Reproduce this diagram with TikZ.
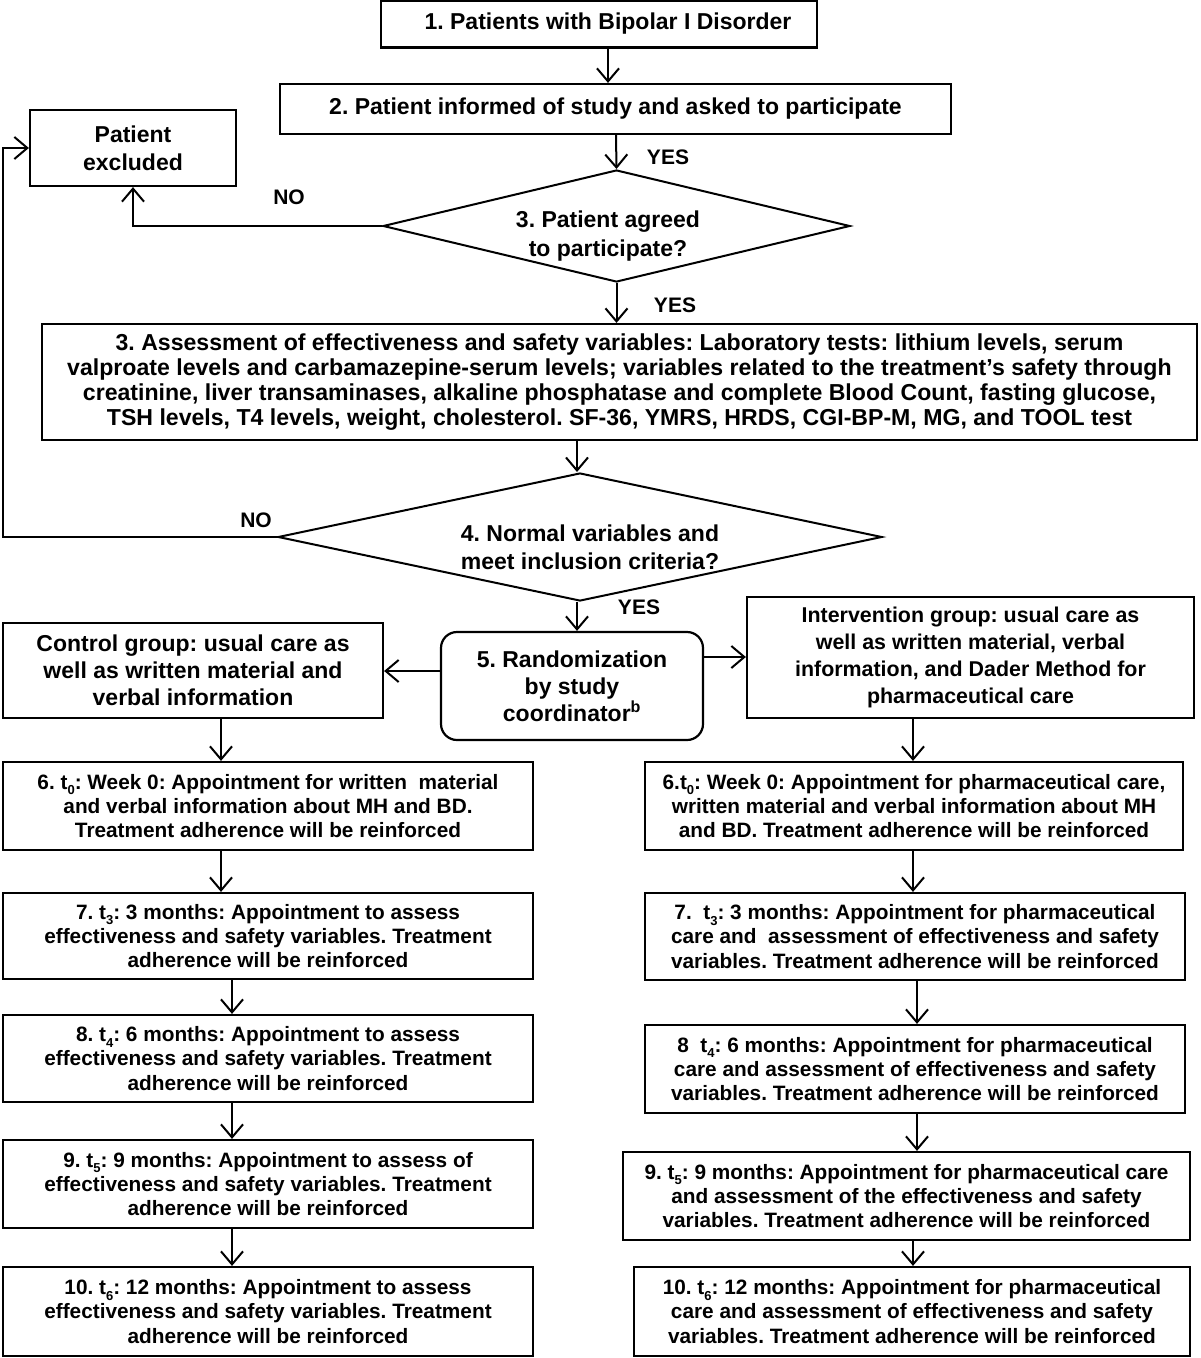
\documentclass[tikz,border=0pt]{standalone}
\usepackage{fontspec}
\setmainfont{Liberation Sans}
\usetikzlibrary{arrows.meta,shapes.geometric}
\frenchspacing
\newcommand\tsb[1]{t\raisebox{-0.28em}{\fontsize{13}{13}\selectfont #1}}
\tikzset{
  box/.style={draw, line width=2.2pt, rectangle, align=center, inner sep=0pt},
  dia/.style={draw, line width=2pt, diamond, inner sep=0pt},
  txt/.style={align=center, inner sep=0pt},
  arr/.style={line width=2pt, -{Straight Barb[length=13pt,width=22pt,line width=2pt]}},
  big/.style={font=\bfseries\fontsize{23}{28}\selectfont},
  mid/.style={font=\bfseries\fontsize{20.8}{24.4}\selectfont},
  grp/.style={font=\bfseries\fontsize{21.4}{27.3}\selectfont},
  lab/.style={inner sep=0pt, font=\bfseries\fontsize{21}{24}\selectfont},
}
\begin{document}
\begin{tikzpicture}[x=1pt, y=-1pt]
\useasboundingbox (0,0) rectangle (1200,1358);
% top part
\node[box, big, minimum width=436pt, minimum height=47pt] (b1) at (599,24) {\hspace*{18pt}1. Patients with Bipolar I Disorder};
\node[box, big, minimum width=671pt, minimum height=50pt] (b2) at (615.5,109) {2. Patient informed of study and asked to participate};
\node[box, big, minimum width=206pt, minimum height=76pt, font=\bfseries\fontsize{23}{28}\selectfont] (ex) at (133,148) {Patient\\excluded};
\node[dia, minimum width=467pt, minimum height=112pt] (d3) at (616.5,226) {};
\node[txt, big, font=\bfseries\fontsize{23}{29}\selectfont] (d3t) at (608,236) {3. Patient agreed\\to participate?};
\node[box, minimum width=1155pt, minimum height=116pt, font=\bfseries\fontsize{23.1}{25}\selectfont] (b3) at (619.5,382) {3. Assessment of effectiveness and safety variables: Laboratory tests: lithium levels, serum\\valproate levels and carbamazepine-serum levels; variables related to the treatment's safety through\\creatinine, liver transaminases, alkaline phosphatase and complete Blood Count, fasting glucose,\\TSH levels, T4 levels, weight, cholesterol. SF-36, YMRS, HRDS, CGI-BP-M, MG, and TOOL test};
\node[dia, minimum width=604pt, minimum height=128pt] (d4) at (580,537) {};
\node[txt, font=\bfseries\fontsize{23}{28}\selectfont] (d4t) at (590,547) {4. Normal variables and\\meet inclusion criteria?};
\node[box, rounded corners=16pt, minimum width=262pt, minimum height=108pt, font=\bfseries\fontsize{23}{27}\selectfont] (b5) at (572,686) {5. Randomization\\by study\\coordinator\textsuperscript{b}};
\node[box, minimum width=380pt, minimum height=95pt, font=\bfseries\fontsize{23}{27}\selectfont] (ctrl) at (193,670.5) {Control group: usual care as\\well as written material and\\verbal information};
\node[box, grp, minimum width=447pt, minimum height=121pt] (int) at (970.5,657.5) {Intervention group: usual care as\\well as written material, verbal\\information, and Dader Method for\\pharmaceutical care};
% labels
\node[lab] (y1) at (668,157) {YES};
\node[lab] (y2) at (675,305) {YES};
\node[lab] (y3) at (639,607) {YES};
\node[lab] (n1) at (289,197) {NO};
\node[lab] (n2) at (256,520) {NO};
% left column
\node[box, mid, minimum width=530pt, minimum height=88pt] (l6) at (268,806) {6. \tsb{0}: Week 0: Appointment for written\ \ material\\and verbal information about MH and BD.\\Treatment adherence will be reinforced};
\node[box, mid, minimum width=530pt, minimum height=86pt] (l7) at (268,936) {7. \tsb{3}: 3 months: Appointment to assess\\effectiveness and safety variables. Treatment\\adherence will be reinforced};
\node[box, mid, minimum width=530pt, minimum height=87pt] (l8) at (268,1058.5) {8. \tsb{4}: 6 months: Appointment to assess\\effectiveness and safety variables. Treatment\\adherence will be reinforced};
\node[box, mid, minimum width=530pt, minimum height=88pt] (l9) at (268,1184) {9. \tsb{5}: 9 months: Appointment to assess of\\effectiveness and safety variables. Treatment\\adherence will be reinforced};
\node[box, mid, minimum width=530pt, minimum height=89pt] (l10) at (268,1311.5) {10. \tsb{6}: 12 months: Appointment to assess\\effectiveness and safety variables. Treatment\\adherence will be reinforced};
% right column
\node[box, mid, minimum width=538pt, minimum height=88pt] (r6) at (914,806) {6.\tsb{0}: Week 0: Appointment for pharmaceutical care,\\written material and verbal information about MH\\and BD. Treatment adherence will be reinforced};
\node[box, mid, minimum width=540pt, minimum height=87pt] (r7) at (915,936.5) {7.\ \ \tsb{3}: 3 months: Appointment for pharmaceutical\\care and\ \ assessment of effectiveness and safety\\variables. Treatment adherence will be reinforced};
\node[box, mid, minimum width=540pt, minimum height=88pt] (r8) at (915,1069) {8\ \ \tsb{4}: 6 months: Appointment for pharmaceutical\\care and assessment of effectiveness and safety\\variables. Treatment adherence will be reinforced};
\node[box, mid, minimum width=567pt, minimum height=88pt] (r9) at (906.5,1196) {9. \tsb{5}: 9 months: Appointment for pharmaceutical care\\and assessment of the effectiveness and safety\\variables. Treatment adherence will be reinforced};
\node[box, mid, minimum width=556pt, minimum height=89pt] (r10) at (912,1311.5) {10. \tsb{6}: 12 months: Appointment for pharmaceutical\\care and assessment of effectiveness and safety\\variables. Treatment adherence will be reinforced};
% helper coordinates
\coordinate (xa) at (608,0);
\coordinate (xb) at (616,0);
\coordinate (xc) at (577,0);
\coordinate (lp) at (3,0);
\coordinate (xl1) at (221,0);
\coordinate (xl2) at (232,0);
\coordinate (xr1) at (913,0);
\coordinate (xr2) at (917,0);
% connectors
\draw[arr] (b1.south -| xa) -- (b2.north -| xa);
\draw[arr] (b2.south -| xb) -- (d3.north);
\draw[arr] (d3.west) -| (ex.south);
\draw[arr] (d3.south) -- (d3.south |- b3.north);
\draw[arr] (b3.south -| xc) -- (d4.north -| xc);
\draw[arr] (d4.west) -| (lp |- ex.west) -- (ex.west);
\draw[arr] (d4.south -| xc) -- (b5.north -| xc);
\draw[arr] ([yshift=15pt]b5.west) -- ([yshift=15pt]b5.west -| ctrl.east);
\draw[arr] ([yshift=29pt]b5.east) -- ([yshift=29pt]b5.east -| int.west);
\draw[arr] (ctrl.south -| xl1) -- (l6.north -| xl1);
\draw[arr] (l6.south -| xl1) -- (l7.north -| xl1);
\draw[arr] (l7.south -| xl2) -- (l8.north -| xl2);
\draw[arr] (l8.south -| xl2) -- (l9.north -| xl2);
\draw[arr] (l9.south -| xl2) -- (l10.north -| xl2);
\draw[arr] (int.south -| xr1) -- (r6.north -| xr1);
\draw[arr] (r6.south -| xr1) -- (r7.north -| xr1);
\draw[arr] (r7.south -| xr2) -- (r8.north -| xr2);
\draw[arr] (r8.south -| xr2) -- (r9.north -| xr2);
\draw[arr] (r9.south -| xr1) -- (r10.north -| xr1);
\end{tikzpicture}
\end{document}
